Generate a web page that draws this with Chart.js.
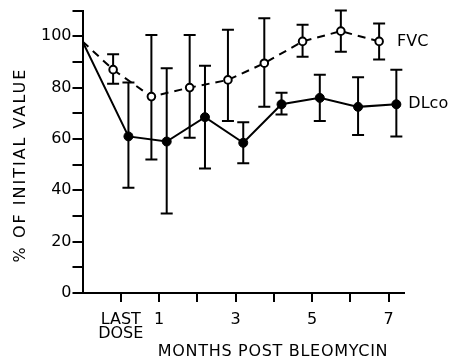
<!DOCTYPE html>
<html>
<head>
<meta charset="utf-8">
<script src="https://cdn.jsdelivr.net/npm/chart.js@4"></script>
<style>
    html, body { margin: 0; padding: 0; background: #fff; }
</style>
</head>
<body>
<canvas id="chart" width="450" height="360"></canvas>
<script>
/* ====================================
   FVC / DLco AFTER BLEOMYCIN
   ==================================== */

// month -1 = initial value (start of the axis)
const fvcMonths = [-1, -0.2, 0.8, 1.8, 2.8, 3.75, 4.75, 5.75, 6.75];
const fvcValues = [98, 87, 76.5, 80, 83, 89.5, 98, 102, 98];
const fvcHigh   = [null, 93, 100.5, 100.5, 102.5, 107, 104.5, 110, 105];
const fvcLow    = [null, 81.5, 52, 60.5, 67, 72.5, 92, 94, 91];

const dlcoMonths = [-1, 0.2, 1.2, 2.2, 3.2, 4.2, 5.2, 6.2, 7.2];
const dlcoValues = [98, 61, 59, 68.5, 58.5, 73.5, 76, 72.5, 73.5];
const dlcoHigh   = [null, 82, 87.5, 88.5, 66.5, 78, 85, 84, 87];
const dlcoLow    = [null, 41, 31, 48.5, 50.5, 69.5, 67, 61.5, 61];

const xTickValues = [0, 1, 2, 3, 4, 5, 6, 7];
const xTickLabels = [['LAST', 'DOSE'], '1', '', '3', '', '5', '', '7'];

const FONT = "'DejaVu Sans', sans-serif";

const errorBars = {
    id: 'errorBars',
    beforeDatasetsDraw(chart) {
        const { ctx, scales: { x, y } } = chart;
        ctx.save();
        ctx.strokeStyle = '#000';
        ctx.lineWidth = 2;
        [[fvcMonths, fvcHigh, fvcLow], [dlcoMonths, dlcoHigh, dlcoLow]].forEach(([xs, hi, lo]) => {
            xs.forEach((m, i) => {
                if (hi[i] == null) return;
                const px = x.getPixelForValue(m);
                const top = y.getPixelForValue(hi[i]);
                const bot = y.getPixelForValue(lo[i]);
                ctx.beginPath();
                ctx.moveTo(px, top); ctx.lineTo(px, bot);
                ctx.moveTo(px - 6, top); ctx.lineTo(px + 6, top);
                ctx.moveTo(px - 6, bot); ctx.lineTo(px + 6, bot);
                ctx.stroke();
            });
        });
        ctx.restore();
    }
};

const textLabels = {
    id: 'textLabels',
    afterDraw(chart) {
        const { ctx, scales: { x, y } } = chart;
        ctx.save();
        ctx.fillStyle = '#000';
        ctx.font = '16px ' + FONT;
        ctx.textBaseline = 'middle';
        ctx.textAlign = 'left';

        // series names next to the last points
        const lf = fvcMonths.length - 1;
        ctx.fillText('FVC', x.getPixelForValue(fvcMonths[lf]) + 18, y.getPixelForValue(fvcValues[lf]));
        const ld = dlcoMonths.length - 1;
        ctx.fillText('DLco', x.getPixelForValue(dlcoMonths[ld]) + 12, y.getPixelForValue(dlcoValues[ld]));

        // axis titles
        ctx.textAlign = 'center';
        ctx.letterSpacing = '0.7px';
        ctx.fillText('MONTHS POST BLEOMYCIN', 273, 352);

        ctx.letterSpacing = '2px';
        ctx.translate(21, 165);
        ctx.rotate(-Math.PI / 2);
        ctx.fillText('% OF INITIAL VALUE', 0, 0);
        ctx.restore();
    }
};

new Chart(document.getElementById('chart'), {
    type: 'scatter',
    data: {
        datasets: [
            {
                label: 'FVC',
                data: fvcMonths.map((m, i) => ({ x: m, y: fvcValues[i] })),
                showLine: true,
                borderColor: '#000',
                borderWidth: 2,
                borderDash: [8, 6],
                pointRadius: (c) => c.dataIndex === 0 ? 0 : 3.8,
                pointBackgroundColor: '#fff',
                pointBorderColor: '#000',
                pointBorderWidth: 2
            },
            {
                label: 'DLco',
                data: dlcoMonths.map((m, i) => ({ x: m, y: dlcoValues[i] })),
                showLine: true,
                borderColor: '#000',
                borderWidth: 2,
                pointRadius: (c) => c.dataIndex === 0 ? 0 : 4.5,
                pointBackgroundColor: '#000',
                pointBorderColor: '#000',
                pointBorderWidth: 1
            }
        ]
    },
    options: {
        responsive: false,
        animation: false,
        devicePixelRatio: 1,
        layout: {
            padding: { top: 9, right: 46, left: 0, bottom: 0 }
        },
        plugins: {
            legend: { display: false },
            tooltip: { enabled: false }
        },
        scales: {
            x: {
                type: 'linear',
                min: -1,
                max: 7.4,
                afterBuildTicks: (s) => { s.ticks = xTickValues.map(v => ({ value: v })); },
                afterFit: (s) => { s.height = 67; },
                grid: { drawOnChartArea: false, drawTicks: true, tickLength: 9, color: '#000', lineWidth: 2 },
                border: { display: true, color: '#000', width: 2 },
                ticks: {
                    color: '#000',
                    autoSkip: false,
                    maxRotation: 0,
                    padding: 11,
                    font: { family: FONT, size: 16, lineHeight: 0.85 },
                    callback: (v) => {
                        const i = xTickValues.indexOf(v);
                        return i < 0 ? '' : xTickLabels[i];
                    }
                }
            },
            y: {
                min: 0,
                max: 110,
                afterFit: (s) => { s.width = 82.5; },
                grid: { drawOnChartArea: false, drawTicks: true, tickLength: 10, color: '#000', lineWidth: 2 },
                border: { display: true, color: '#000', width: 2 },
                ticks: {
                    stepSize: 10,
                    color: '#000',
                    padding: 1,
                    font: { family: FONT, size: 16 },
                    callback: (v) => v % 20 === 0 ? String(v) : ''
                }
            }
        }
    },
    plugins: [errorBars, textLabels]
});
</script>
</body>
</html>
